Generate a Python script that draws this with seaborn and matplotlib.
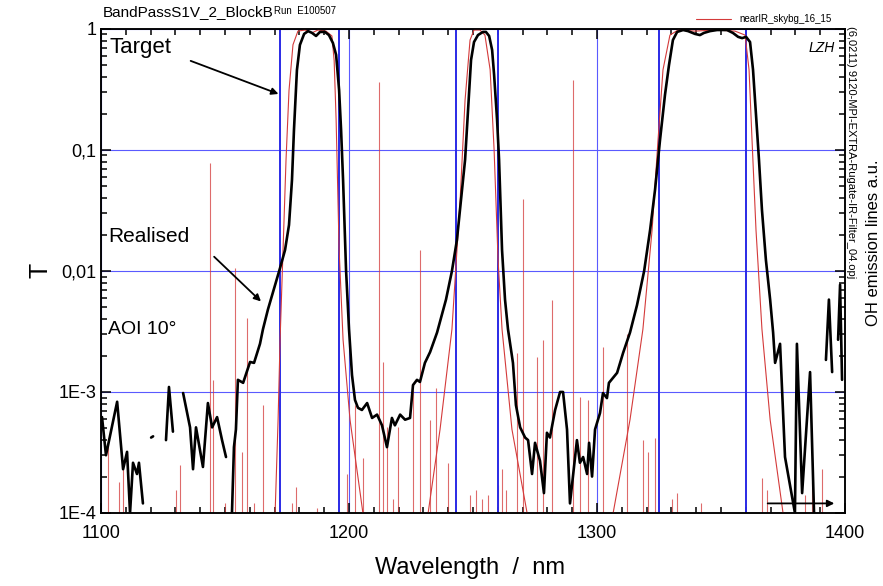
"""Band pass filter transmission (realised vs. target) with OH sky lines."""

import matplotlib

matplotlib.use("Agg")

import matplotlib.pyplot as plt
import numpy as np
import pandas as pd
import seaborn as sns
from matplotlib.lines import Line2D
from matplotlib.ticker import FuncFormatter, LogLocator, MultipleLocator, NullFormatter


GAP = (np.nan, np.nan)

# measured transmission (nm, T); GAP where the trace drops below 1E-4
realised = [
    (1100.4, 6.2e-4), (1102.0, 3.0e-4), (1106.5, 8.3e-4), (1108.9, 2.3e-4), (1110.5, 3.2e-4),
    (1111.7, 1.0e-4), (1112.9, 2.6e-4), (1114.5, 2.1e-4), (1115.3, 2.6e-4), (1116.9, 1.2e-4), GAP,
    (1120.2, 4.2e-4), (1121.0, 4.3e-4), GAP,
    (1126.2, 4.0e-4), (1127.4, 1.1e-3), (1129.0, 4.7e-4), GAP,
    (1133.1, 9.8e-4), (1135.9, 5.1e-4), (1137.1, 2.3e-4), (1138.3, 5.1e-4), (1141.1, 2.4e-4),
    (1143.1, 8.1e-4), (1144.8, 5.1e-4), (1146.8, 6.2e-4), (1148.8, 4.0e-4), (1150.4, 2.9e-4), GAP,
    (1152.8, 1.0e-4), (1153.6, 3.5e-4), (1154.4, 4.9e-4), (1155.2, 1.26e-3), (1157.3, 1.19e-3),
    (1160.1, 1.77e-3), (1161.7, 1.74e-3), (1164.1, 2.5e-3), (1165.3, 3.3e-3), (1167.3, 4.8e-3),
    (1170.2, 7.7e-3), (1172.2, 0.0106), (1174.2, 0.0149), (1175.8, 0.024), (1177.0, 0.0565),
    (1177.8, 0.146), (1179.0, 0.458), (1180.2, 0.738), (1181.9, 0.91), (1183.5, 0.96),
    (1185.1, 0.927), (1186.7, 0.875), (1188.3, 0.945), (1190.3, 0.945), (1191.9, 0.89),
    (1193.5, 0.766), (1194.8, 0.61), (1196.0, 0.313), (1196.8, 0.146), (1197.6, 0.0565),
    (1198.8, 0.0102), (1200.0, 3.3e-3), (1201.2, 1.38e-3), (1202.4, 8.6e-4), (1203.6, 7.4e-4),
    (1205.2, 7.1e-4), (1207.3, 8.1e-4), (1209.3, 6.1e-4), (1211.3, 6.5e-4), (1213.3, 5.3e-4),
    (1215.3, 3.5e-4), (1217.3, 6.1e-4), (1218.5, 5.3e-4), (1220.6, 6.5e-4), (1222.6, 5.9e-4),
    (1224.6, 6.1e-4), (1225.8, 1.14e-3), (1227.4, 1.26e-3), (1228.6, 1.21e-3), (1230.6, 1.74e-3),
    (1232.7, 2.14e-3), (1235.5, 3.1e-3), (1239.1, 5.8e-3), (1241.5, 0.01), (1243.5, 0.018),
    (1245.6, 0.047), (1246.8, 0.083), (1248.0, 0.214), (1249.2, 0.554), (1250.4, 0.78),
    (1252.0, 0.89), (1254.0, 0.945), (1255.2, 0.945), (1256.5, 0.875), (1257.7, 0.67),
    (1258.5, 0.417), (1259.7, 0.177), (1260.5, 0.083), (1261.7, 0.0149), (1262.9, 5.8e-3),
    (1264.1, 3.3e-3), (1266.1, 1.74e-3), (1267.3, 7.8e-4), (1269.0, 5.1e-4), (1271.0, 4.2e-4),
    (1272.2, 4.0e-4), (1273.8, 2.1e-4), (1275.0, 3.8e-4), (1277.0, 2.7e-4), (1278.6, 1.46e-4),
    (1279.8, 4.6e-4), (1281.0, 4.2e-4), (1283.1, 7.1e-4), (1285.1, 1.0e-3), (1286.3, 1.0e-3),
    (1287.9, 4.9e-4), (1289.1, 1.2e-4), (1291.9, 4.0e-4), (1293.1, 2.6e-4), (1294.4, 2.9e-4),
    (1296.0, 2.1e-4), (1296.8, 3.8e-4), (1298.0, 2.0e-4), (1299.2, 4.9e-4), (1301.2, 6.7e-4),
    (1302.4, 9.8e-4), (1304.0, 8.9e-4), (1304.8, 1.19e-3), (1308.1, 1.44e-3), (1310.5, 2.1e-3),
    (1313.3, 3.1e-3), (1316.1, 5.2e-3), (1319.0, 0.01), (1321.4, 0.0218), (1323.4, 0.047),
    (1325.4, 0.121), (1327.4, 0.285), (1329.0, 0.50), (1330.6, 0.81), (1332.3, 0.945),
    (1334.7, 0.98), (1336.7, 0.96), (1339.5, 0.91), (1341.5, 0.89), (1343.1, 0.927),
    (1345.6, 0.96), (1348.4, 0.98), (1352.4, 0.98), (1354.8, 0.927), (1356.9, 0.86),
    (1358.5, 0.84), (1360.1, 0.86), (1361.7, 0.78), (1362.9, 0.46), (1364.1, 0.195),
    (1365.3, 0.083), (1366.5, 0.032), (1368.1, 0.0123), (1369.8, 5.8e-3), (1371.0, 3.1e-3),
    (1371.8, 1.74e-3), (1373.8, 2.5e-3), (1375.8, 2.9e-4), (1379.8, 1.0e-4), (1380.6, 2.5e-3),
    (1382.7, 1.46e-4), (1385.9, 1.46e-3), (1387.5, 1.0e-4), GAP,
    (1392.3, 1.84e-3), (1393.5, 5.8e-3), (1394.8, 1.46e-3), GAP,
    (1397.2, 2.7e-3), (1398.0, 7.7e-3), (1398.8, 1.26e-3),
]

# design curve (thin red)
design = [
    (1170.2, 1e-4), (1171.4, 5.9e-4), (1172.2, 2.7e-3), (1173.4, 0.015), (1174.6, 0.083),
    (1175.8, 0.31), (1177.4, 0.74), (1179.4, 0.96), (1182.3, 0.98), (1185.1, 0.93),
    (1187.5, 0.98), (1190.7, 0.96), (1193.1, 0.875), (1194.0, 0.55), (1194.8, 0.177),
    (1196.0, 0.015), (1197.6, 2.7e-3), (1200.4, 5.9e-4), (1205.6, 1e-4), GAP,
    (1231.9, 1e-4), (1236.7, 4.9e-4), (1241.5, 3.3e-3), (1244.8, 0.0386), (1246.8, 0.26),
    (1248.8, 0.81), (1250.4, 0.98), (1252.8, 0.98), (1254.8, 0.89), (1256.9, 0.46),
    (1258.5, 0.1), (1260.1, 0.0123), (1261.7, 3.3e-3), (1265.7, 4.9e-4), (1271.8, 1e-4), GAP,
    (1306.5, 1e-4), (1313.3, 5.9e-4), (1318.5, 3.3e-3), (1322.2, 0.0218), (1324.6, 0.121),
    (1326.6, 0.46), (1329.4, 0.89), (1332.7, 0.98), (1339.5, 0.96), (1347.6, 0.98),
    (1355.6, 0.96), (1359.7, 0.89), (1361.3, 0.46), (1362.5, 0.121), (1364.1, 0.0218),
    (1366.5, 3.3e-3), (1369.8, 5.9e-4), (1375.0, 1e-4),
]

# target pass bands (nm)
target_lo = [1172, 1243, 1325]
target_hi = [1196, 1260, 1360]

# OH emission lines (nm, a.u. on the log scale of the right axis)
oh_nm = [
    1102.8, 1107.3, 1108.9, 1130.2, 1131.9, 1144.0, 1145.2, 1150.0, 1154.0, 1156.9, 1158.9,
    1161.7, 1165.3, 1177.0, 1178.6, 1187.1, 1199.2, 1202.4, 1205.6, 1212.1, 1213.7, 1215.3,
    1217.7, 1219.8, 1225.8, 1228.6, 1232.7, 1235.1, 1239.9, 1248.8, 1251.2, 1253.6, 1256.0,
    1260.1, 1261.7, 1263.3, 1267.7, 1270.2, 1275.8, 1278.2, 1281.9, 1290.3, 1293.1, 1296.4,
    1302.4, 1312.1, 1318.5, 1320.6, 1323.4, 1330.2, 1332.3, 1341.9, 1366.5, 1368.5, 1383.9,
    1386.7, 1390.7,
]
oh_level = [
    4.2e-4, 1.8e-4, 2.3e-4, 1.55e-4, 2.5e-4, 0.078, 1.26e-3, 1.2e-4, 0.0106, 3.2e-4, 4.1e-3,
    1.2e-4, 7.8e-4, 1.2e-4, 1.64e-4, 1.1e-4, 2.1e-4, 7.8e-4, 2.85e-4, 0.365, 1.77e-3, 5.1e-4,
    1.3e-4, 5.1e-4, 1.04e-3, 0.015, 5.9e-4, 1.08e-3, 2.6e-4, 1.4e-4, 1.55e-4, 1.3e-4, 1.4e-4,
    1.7e-4, 2.3e-4, 1.55e-4, 2.1e-3, 0.039, 1.95e-3, 2.7e-3, 5.8e-3, 0.38, 9.1e-4, 8.6e-4,
    2.35e-3, 3.0e-3, 4.0e-4, 3.2e-4, 4.2e-4, 1.3e-4, 1.46e-4, 1.2e-4, 1.95e-4, 1.55e-4, 1.4e-4,
    1.8e-4, 2.3e-4,
]

y_tick_text = {1e-4: "1E-4", 1e-3: "1E-3", 1e-2: "0,01", 1e-1: "0,1", 1.0: "1"}


def to_frame(points: list[tuple[float, float]]) -> pd.DataFrame:
    """Turn (nm, T) pairs with GAP rows into a frame with one id per unbroken piece."""
    frame = pd.DataFrame(points, columns=["nm", "t"])
    frame["seg"] = frame["nm"].isna().cumsum()
    return frame.dropna().reset_index(drop=True)


realised_df = to_frame(realised)
design_df = to_frame(design)
target_df = pd.DataFrame(
    [
        row
        for band, (lo, hi) in enumerate(zip(target_lo, target_hi))
        for row in [(lo, 1e-5, band), (lo, 1.0, band), (hi, 1.0, band), (hi, 1e-5, band)]
    ],
    columns=["nm", "t", "seg"],
)

sns.set_theme(style="ticks")
plt.rcParams["font.family"] = ["Liberation Sans", "DejaVu Sans"]
plt.rcParams.update({
    "text.color": "black",
    "axes.labelcolor": "black",
    "xtick.color": "black",
    "ytick.color": "black",
})

fig = plt.figure(figsize=(8.83, 5.86), dpi=100)
ax = fig.add_axes([0.1144, 0.1246, 0.8426, 0.826])
ax.set_yscale("log")

red = "#d43a3a"
blue = "#2a2ae6"

ax.vlines(oh_nm, 1e-5, oh_level, color=red, lw=0.8, alpha=0.75, zorder=1)
sns.lineplot(data=target_df, x="nm", y="t", units="seg", estimator=None, sort=False,
             color=blue, lw=1.4, ax=ax, zorder=2)
sns.lineplot(data=design_df, x="nm", y="t", units="seg", estimator=None, sort=False,
             color=red, lw=0.8, ax=ax, zorder=3)
sns.lineplot(data=realised_df, x="nm", y="t", units="seg", estimator=None, sort=False,
             color="black", lw=1.9, ax=ax, zorder=4)

ax.set_xlim(1100, 1400)
ax.set_ylim(1e-4, 1)
ax.set_xlabel("")
ax.set_ylabel("")
ax.grid(True, which="major", color="#5a5aff", lw=0.8)
ax.set_axisbelow(True)

ax.xaxis.set_major_locator(MultipleLocator(100))
ax.xaxis.set_minor_locator(MultipleLocator(10))
ax.yaxis.set_major_locator(LogLocator(base=10, numticks=10))
ax.yaxis.set_minor_locator(LogLocator(base=10, subs=np.arange(2, 10), numticks=10))
ax.yaxis.set_major_formatter(FuncFormatter(lambda v, _: y_tick_text.get(round(v, 6), "")))
ax.yaxis.set_minor_formatter(NullFormatter())
ax.tick_params(axis="both", which="both", direction="in", top=True, right=False,
               labelsize=13, colors="black", width=1.1)
ax.tick_params(which="major", length=7)
ax.tick_params(which="minor", length=4)
ax.tick_params(axis="x", pad=9)

ax2 = ax.twinx()
ax2.set_yscale("log")
ax2.set_ylim(1e-4, 1)
ax2.yaxis.set_major_locator(LogLocator(base=10, numticks=10))
ax2.yaxis.set_minor_locator(LogLocator(base=10, subs=np.arange(2, 10), numticks=10))
ax2.tick_params(axis="y", which="both", direction="in", labelright=False, width=1.1,
                colors="black")
ax2.tick_params(which="major", length=7)
ax2.tick_params(which="minor", length=4)
ax2.grid(False)

for axis in (ax, ax2):
    for spine in axis.spines.values():
        spine.set_color("black")
        spine.set_linewidth(1.1)

arrow = dict(arrowstyle="-|>", color="black", lw=1.3, mutation_scale=10)
ax.text(1103.6, 0.70, "Target", fontsize=16, va="center", ha="left")
ax.annotate("", xy=(1172.6, 0.285), xytext=(1135.1, 0.555), arrowprops=arrow)
ax.text(1102.8, 0.0191, "Realised", fontsize=15, va="center", ha="left")
ax.annotate("", xy=(1165.3, 5.4e-3), xytext=(1144.8, 0.0136), arrowprops=arrow)
ax.text(1102.8, 3.3e-3, "AOI 10°", fontsize=14, va="center", ha="left")
ax.annotate("", xy=(1396.8, 1.2e-4), xytext=(1367.7, 1.2e-4), arrowprops=arrow)
ax.text(1396.0, 0.70, "LZH", fontsize=10, style="italic", va="center", ha="right")

ax.legend(handles=[Line2D([], [], color=red, lw=0.8)], labels=["nearIR_skybg_16_15"],
          loc="lower right", bbox_to_anchor=(0.988, 1.0), frameon=False, fontsize=7,
          handlelength=3.6, borderaxespad=0.1, labelcolor="black")

fig.text(103 / 883, 1 - 12 / 586, "BandPassS1V_2_BlockB", fontsize=11, va="center")
fig.text(274 / 883, 1 - 11 / 586, "Run  E100507", fontsize=7, va="center")
fig.text(40 / 883, 1 - 270 / 586, "T", fontsize=18, rotation=90, ha="center", va="center")
fig.text(470 / 883, 1 - 568 / 586, "Wavelength  /  nm", fontsize=17, ha="center", va="center")
fig.text(851 / 883, 1 - 26 / 586, "(6,0211) 9120-MPI-EXTRA-Rugate-IR-Filter_04.opj",
         fontsize=8, rotation=270, ha="center", va="top")
fig.text(873 / 883, 1 - 243 / 586, "OH emission lines a.u.", fontsize=12, rotation=90,
         ha="center", va="center")

fig.savefig("out.png", dpi=100)
plt.close(fig)
